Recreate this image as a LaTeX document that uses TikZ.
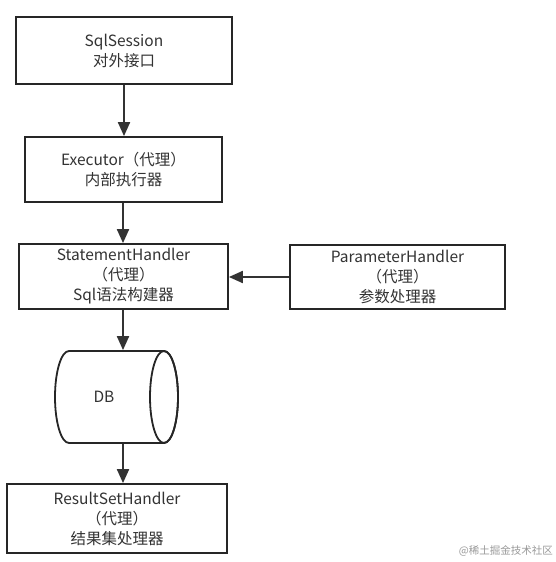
\documentclass[tikz,border=0pt]{standalone}
\usepackage{fontspec}
\setmainfont{Noto Sans CJK SC}
\usetikzlibrary{arrows.meta}
\begin{document}
\begin{tikzpicture}[x=1pt,y=-1pt,
  box/.style={draw=black!85,line width=1.8pt,align=center,inner sep=0pt,font=\fontsize{15.5}{20}\selectfont,text=black!80},
  arr/.style={draw=black!80,line width=2pt,-{Triangle[length=14pt,width=12pt]}}]
\useasboundingbox (0,0) rectangle (556,562);
\fill[white] (0,0) rectangle (556,562);
\node[box,minimum width=216pt,minimum height=67pt] (ss) at (124,50.5) {SqlSession\\对外接口};
\node[box,minimum width=197pt,minimum height=65pt] (ex) at (123.5,169.5) {Executor（代理）\\内部执行器};
\node[box,minimum width=209pt,minimum height=65pt] (st) at (123.5,276.5) {StatementHandler\\（代理）\\Sql语法构建器};
\node[box,minimum width=215pt,minimum height=64pt] (ph) at (397.5,277) {ParameterHandler\\（代理）\\参数处理器};
% DB cylinder
\draw[draw=black!85,line width=1.8pt] (69,351) -- (164,351) arc[start angle=90,end angle=-90,x radius=14pt,y radius=46pt] -- (69,443) arc[start angle=270,end angle=90,x radius=14pt,y radius=46pt] -- cycle;
\draw[draw=black!85,line width=1.8pt] (164,397) ellipse[x radius=14pt,y radius=46pt];
\node[box,draw=none,minimum width=60pt,minimum height=92pt] (db) at (104,397) {DB};
\node[box,minimum width=220pt,minimum height=69pt] (rs) at (117,518.5) {ResultSetHandler\\（代理）\\结果集处理器};
\draw[arr] (ss.south -| 124,0) -- (ex.north -| 124,0);
\draw[arr] (ex.south -| 123,0) -- (st.north -| 123,0);
\draw[arr] (ph.west) -- (st.east |- ph.west);
\draw[arr] (st.south -| 123,0) -- (db.north -| 123,0);
\draw[arr] (db.south -| 123,0) -- (rs.north -| 123,0);
\node[anchor=east,text=black!40,font=\fontsize{10.5}{12}\selectfont,inner sep=0pt] (wm) at (553,551) {@稀土掘金技术社区};
\end{tikzpicture}
\end{document}
